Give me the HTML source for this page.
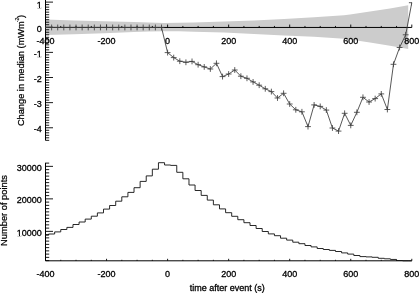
<!DOCTYPE html>
<html><head><meta charset="utf-8"><style>
html,body{margin:0;padding:0;background:#fff;width:419px;height:293px;overflow:hidden;}
svg{display:block;will-change:transform;font-family:"Liberation Sans", sans-serif;}
</style></head><body>
<svg width="419" height="293" viewBox="0 0 419 293" font-family='&quot;Liberation Sans&quot;, sans-serif' fill="#000" stroke-linejoin="round"><defs><clipPath id="ctop"><rect x="45.5" y="2.1" width="366.30" height="293"/></clipPath></defs><rect width="419" height="293" fill="#fff"/><polygon fill="#cccccc" points="45.90,19.60 74.00,20.40 104.00,21.35 134.00,22.10 149.00,22.60 164.00,23.10 179.00,22.80 194.00,22.50 224.00,21.60 254.00,20.50 284.00,19.05 314.00,17.20 344.00,15.30 350.00,14.40 370.00,11.50 390.00,8.60 408.20,5.20 408.20,48.90 390.00,45.80 370.00,42.60 350.00,39.50 344.00,38.80 314.00,36.65 284.00,35.40 254.00,34.00 224.00,32.60 194.00,31.70 179.00,31.30 164.00,31.20 149.00,31.60 134.00,32.00 104.00,33.20 74.00,34.25 45.90,34.90"/>
<line x1="45.50" y1="0.00" x2="45.50" y2="140.40" stroke="#000" stroke-width="1"/>
<line x1="45.50" y1="27.45" x2="411.80" y2="27.45" stroke="#000" stroke-width="1"/>
<path d="M45.50 140.33h3.70 M45.50 137.82h3.70 M45.50 135.31h3.70 M45.50 132.80h3.70 M45.50 130.28h3.70 M45.50 127.77h7.50 M45.50 125.26h3.70 M45.50 122.74h3.70 M45.50 120.23h3.70 M45.50 117.72h3.70 M45.50 115.20h3.70 M45.50 112.69h3.70 M45.50 110.18h3.70 M45.50 107.67h3.70 M45.50 105.15h3.70 M45.50 102.64h7.50 M45.50 100.13h3.70 M45.50 97.61h3.70 M45.50 95.10h3.70 M45.50 92.59h3.70 M45.50 90.07h3.70 M45.50 87.56h3.70 M45.50 85.05h3.70 M45.50 82.54h3.70 M45.50 80.02h3.70 M45.50 77.51h7.50 M45.50 75.00h3.70 M45.50 72.48h3.70 M45.50 69.97h3.70 M45.50 67.46h3.70 M45.50 64.94h3.70 M45.50 62.43h3.70 M45.50 59.92h3.70 M45.50 57.41h3.70 M45.50 54.89h3.70 M45.50 52.38h7.50 M45.50 49.87h3.70 M45.50 47.35h3.70 M45.50 44.84h3.70 M45.50 42.33h3.70 M45.50 39.81h3.70 M45.50 37.30h3.70 M45.50 34.79h3.70 M45.50 32.28h3.70 M45.50 29.76h3.70 M45.50 27.25h7.50 M45.50 24.74h3.70 M45.50 22.22h3.70 M45.50 19.71h3.70 M45.50 17.20h3.70 M45.50 14.69h3.70 M45.50 12.17h3.70 M45.50 9.66h3.70 M45.50 7.15h3.70 M45.50 4.63h3.70 M45.50 2.12h7.50" stroke="#000" stroke-width="0.9" fill="none"/>
<path d="M45.50 27.45v-2.90 M60.76 27.45v-1.50 M76.03 27.45v-1.50 M91.29 27.45v-1.50 M106.55 27.45v-2.90 M121.81 27.45v-1.50 M137.07 27.45v-1.50 M152.34 27.45v-1.50 M167.60 27.45v-2.90 M182.86 27.45v-1.50 M198.12 27.45v-1.50 M213.39 27.45v-1.50 M228.65 27.45v-2.90 M243.91 27.45v-1.50 M259.18 27.45v-1.50 M274.44 27.45v-1.50 M289.70 27.45v-2.90 M304.96 27.45v-1.50 M320.23 27.45v-1.50 M335.49 27.45v-1.50 M350.75 27.45v-2.90 M366.01 27.45v-1.50 M381.27 27.45v-1.50 M396.54 27.45v-1.50 M411.80 27.45v-2.90" stroke="#000" stroke-width="0.9" fill="none"/>
<polyline fill="none" stroke="#3a3a3a" stroke-width="0.85" points="45.50,27.45 51.61,27.45 57.71,27.45 63.81,27.45 69.92,27.45 76.03,27.45 82.13,27.45 88.23,27.45 94.34,27.45 100.44,27.45 106.55,27.45 112.66,27.45 118.76,27.45 124.86,27.45 130.97,27.45 137.07,27.45 143.18,27.45 149.28,27.45 155.39,27.45 161.50,27.45 167.60,52.60 173.71,57.60 179.81,61.20 185.91,62.30 192.02,61.40 198.12,64.70 204.23,66.90 210.34,69.00 216.44,63.30 222.54,76.60 228.65,74.00 234.75,70.00 240.86,76.20 246.97,78.30 253.07,81.90 259.18,85.20 265.28,88.80 271.38,91.60 277.49,98.00 283.60,93.30 289.70,104.00 295.81,109.80 301.91,111.80 308.01,126.60 314.12,104.90 320.23,106.40 326.33,110.10 332.44,128.00 338.54,131.10 344.64,113.30 350.75,125.40 356.86,112.30 362.96,97.30 369.06,102.00 375.17,98.60 381.27,93.90 387.38,109.50 393.49,64.30 399.59,47.50 405.69,34.80 411.80,2.70"/>
<g clip-path="url(#ctop)"><path d="M42.60 27.45h5.80M45.50 24.55v5.80 M48.71 27.45h5.80M51.61 24.55v5.80 M54.81 27.45h5.80M57.71 24.55v5.80 M60.91 27.45h5.80M63.81 24.55v5.80 M67.02 27.45h5.80M69.92 24.55v5.80 M73.12 27.45h5.80M76.03 24.55v5.80 M79.23 27.45h5.80M82.13 24.55v5.80 M85.33 27.45h5.80M88.23 24.55v5.80 M91.44 27.45h5.80M94.34 24.55v5.80 M97.54 27.45h5.80M100.44 24.55v5.80 M103.65 27.45h5.80M106.55 24.55v5.80 M109.75 27.45h5.80M112.66 24.55v5.80 M115.86 27.45h5.80M118.76 24.55v5.80 M121.96 27.45h5.80M124.86 24.55v5.80 M128.07 27.45h5.80M130.97 24.55v5.80 M134.17 27.45h5.80M137.07 24.55v5.80 M140.28 27.45h5.80M143.18 24.55v5.80 M146.38 27.45h5.80M149.28 24.55v5.80 M152.49 27.45h5.80M155.39 24.55v5.80 M158.59 27.45h5.80M161.50 24.55v5.80 M164.70 52.60h5.80M167.60 49.70v5.80 M170.81 57.60h5.80M173.71 54.70v5.80 M176.91 61.20h5.80M179.81 58.30v5.80 M183.01 62.30h5.80M185.91 59.40v5.80 M189.12 61.40h5.80M192.02 58.50v5.80 M195.22 64.70h5.80M198.12 61.80v5.80 M201.33 66.90h5.80M204.23 64.00v5.80 M207.44 69.00h5.80M210.34 66.10v5.80 M213.54 63.30h5.80M216.44 60.40v5.80 M219.64 76.60h5.80M222.54 73.70v5.80 M225.75 74.00h5.80M228.65 71.10v5.80 M231.85 70.00h5.80M234.75 67.10v5.80 M237.96 76.20h5.80M240.86 73.30v5.80 M244.06 78.30h5.80M246.97 75.40v5.80 M250.17 81.90h5.80M253.07 79.00v5.80 M256.28 85.20h5.80M259.18 82.30v5.80 M262.38 88.80h5.80M265.28 85.90v5.80 M268.49 91.60h5.80M271.38 88.70v5.80 M274.59 98.00h5.80M277.49 95.10v5.80 M280.70 93.30h5.80M283.60 90.40v5.80 M286.80 104.00h5.80M289.70 101.10v5.80 M292.91 109.80h5.80M295.81 106.90v5.80 M299.01 111.80h5.80M301.91 108.90v5.80 M305.12 126.60h5.80M308.01 123.70v5.80 M311.22 104.90h5.80M314.12 102.00v5.80 M317.33 106.40h5.80M320.23 103.50v5.80 M323.43 110.10h5.80M326.33 107.20v5.80 M329.54 128.00h5.80M332.44 125.10v5.80 M335.64 131.10h5.80M338.54 128.20v5.80 M341.75 113.30h5.80M344.64 110.40v5.80 M347.85 125.40h5.80M350.75 122.50v5.80 M353.96 112.30h5.80M356.86 109.40v5.80 M360.06 97.30h5.80M362.96 94.40v5.80 M366.17 102.00h5.80M369.06 99.10v5.80 M372.27 98.60h5.80M375.17 95.70v5.80 M378.38 93.90h5.80M381.27 91.00v5.80 M384.48 109.50h5.80M387.38 106.60v5.80 M390.59 64.30h5.80M393.49 61.40v5.80 M396.69 47.50h5.80M399.59 44.60v5.80 M402.80 34.80h5.80M405.69 31.90v5.80 M408.90 2.70h5.80M411.80 -0.20v5.80" stroke="#404040" stroke-width="0.85" fill="none"/></g>
<text x="41.80" y="7.72" text-anchor="end" font-size="9.00" stroke="#000" stroke-width="0.3" >1</text>
<text x="41.80" y="31.85" text-anchor="end" font-size="9.00" stroke="#000" stroke-width="0.3" >0</text>
<text x="41.80" y="56.98" text-anchor="end" font-size="9.00" stroke="#000" stroke-width="0.3" >-1</text>
<text x="41.80" y="82.11" text-anchor="end" font-size="9.00" stroke="#000" stroke-width="0.3" >-2</text>
<text x="41.80" y="107.24" text-anchor="end" font-size="9.00" stroke="#000" stroke-width="0.3" >-3</text>
<text x="41.80" y="132.37" text-anchor="end" font-size="9.00" stroke="#000" stroke-width="0.3" >-4</text>
<text x="45.50" y="43.50" text-anchor="middle" font-size="9.00" stroke="#000" stroke-width="0.3" >-400</text>
<text x="106.55" y="43.50" text-anchor="middle" font-size="9.00" stroke="#000" stroke-width="0.3" >-200</text>
<text x="167.60" y="43.50" text-anchor="middle" font-size="9.00" stroke="#000" stroke-width="0.3" >0</text>
<text x="228.65" y="43.50" text-anchor="middle" font-size="9.00" stroke="#000" stroke-width="0.3" >200</text>
<text x="289.70" y="43.50" text-anchor="middle" font-size="9.00" stroke="#000" stroke-width="0.3" >400</text>
<text x="350.75" y="43.50" text-anchor="middle" font-size="9.00" stroke="#000" stroke-width="0.3" >600</text>
<text x="411.80" y="43.50" text-anchor="middle" font-size="9.00" stroke="#000" stroke-width="0.3" >800</text>
<line x1="45.50" y1="162.80" x2="45.50" y2="260.80" stroke="#000" stroke-width="1"/>
<line x1="45.50" y1="260.80" x2="411.80" y2="260.80" stroke="#000" stroke-width="1"/>
<path d="M45.50 260.61h3.70 M45.50 257.36h3.70 M45.50 254.11h3.70 M45.50 250.86h3.70 M45.50 247.61h3.70 M45.50 244.36h3.70 M45.50 241.11h3.70 M45.50 237.86h3.70 M45.50 234.61h3.70 M45.50 231.36h7.50 M45.50 228.11h3.70 M45.50 224.86h3.70 M45.50 221.61h3.70 M45.50 218.36h3.70 M45.50 215.11h3.70 M45.50 211.86h3.70 M45.50 208.61h3.70 M45.50 205.36h3.70 M45.50 202.11h3.70 M45.50 198.86h7.50 M45.50 195.61h3.70 M45.50 192.36h3.70 M45.50 189.11h3.70 M45.50 185.86h3.70 M45.50 182.61h3.70 M45.50 179.36h3.70 M45.50 176.11h3.70 M45.50 172.86h3.70 M45.50 169.61h3.70 M45.50 166.36h7.50 M45.50 163.11h3.70" stroke="#000" stroke-width="0.9" fill="none"/>
<path d="M45.50 260.80v-2.00 M60.76 260.80v-1.00 M76.03 260.80v-1.00 M91.29 260.80v-1.00 M106.55 260.80v-2.00 M121.81 260.80v-1.00 M137.07 260.80v-1.00 M152.34 260.80v-1.00 M167.60 260.80v-2.00 M182.86 260.80v-1.00 M198.12 260.80v-1.00 M213.39 260.80v-1.00 M228.65 260.80v-2.00 M243.91 260.80v-1.00 M259.18 260.80v-1.00 M274.44 260.80v-1.00 M289.70 260.80v-2.00 M304.96 260.80v-1.00 M320.23 260.80v-1.00 M335.49 260.80v-1.00 M350.75 260.80v-2.00 M366.01 260.80v-1.00 M381.27 260.80v-1.00 M396.54 260.80v-1.00 M411.80 260.80v-2.00" stroke="#000" stroke-width="0.9" fill="none"/>
<polyline fill="none" stroke="#111" stroke-width="0.9" points="45.50,235.20 48.55,235.20 48.55,234.00 54.66,234.00 54.66,231.90 60.76,231.90 60.76,229.50 66.87,229.50 66.87,227.40 72.97,227.40 72.97,224.50 79.08,224.50 79.08,222.00 85.18,222.00 85.18,219.10 91.29,219.10 91.29,216.20 97.39,216.20 97.39,212.90 103.50,212.90 103.50,209.10 109.60,209.10 109.60,205.50 115.71,205.50 115.71,201.20 121.81,201.20 121.81,196.80 127.92,196.80 127.92,192.40 134.02,192.40 134.02,187.70 140.13,187.70 140.13,181.40 146.23,181.40 146.23,175.90 152.34,175.90 152.34,169.20 158.44,169.20 158.44,162.70 164.55,162.70 164.55,165.00 170.65,165.00 170.65,165.40 176.76,165.40 176.76,172.30 182.86,172.30 182.86,178.80 188.97,178.80 188.97,185.00 195.07,185.00 195.07,190.50 201.18,190.50 201.18,195.40 207.28,195.40 207.28,200.10 213.39,200.10 213.39,204.80 219.49,204.80 219.49,208.90 225.60,208.90 225.60,212.70 231.70,212.70 231.70,216.30 237.81,216.30 237.81,219.70 243.91,219.70 243.91,222.70 250.02,222.70 250.02,225.50 256.12,225.50 256.12,228.50 262.23,228.50 262.23,231.50 268.33,231.50 268.33,233.90 274.44,233.90 274.44,235.70 280.54,235.70 280.54,238.20 286.65,238.20 286.65,240.10 292.75,240.10 292.75,242.20 298.86,242.20 298.86,243.70 304.96,243.70 304.96,245.50 311.07,245.50 311.07,246.90 317.17,246.90 317.17,248.50 323.28,248.50 323.28,249.50 329.38,249.50 329.38,250.40 335.49,250.40 335.49,251.50 341.59,251.50 341.59,252.90 347.70,252.90 347.70,254.10 353.80,254.10 353.80,255.50 359.91,255.50 359.91,256.60 366.01,256.60 366.01,256.90 372.12,256.90 372.12,257.30 378.22,257.30 378.22,258.30 384.33,258.30 384.33,258.80 390.43,258.80 390.43,259.45 396.54,259.45 396.54,260.50 402.64,260.50 402.64,260.80 408.75,260.80 408.75,260.80 411.80,260.80"/>
<text x="41.80" y="170.86" text-anchor="end" font-size="9.00" stroke="#000" stroke-width="0.3" >30000</text>
<text x="41.80" y="203.36" text-anchor="end" font-size="9.00" stroke="#000" stroke-width="0.3" >20000</text>
<text x="41.80" y="235.86" text-anchor="end" font-size="9.00" stroke="#000" stroke-width="0.3" >10000</text>
<text x="45.50" y="277.00" text-anchor="middle" font-size="9.00" stroke="#000" stroke-width="0.3" >-400</text>
<text x="106.55" y="277.00" text-anchor="middle" font-size="9.00" stroke="#000" stroke-width="0.3" >-200</text>
<text x="167.60" y="277.00" text-anchor="middle" font-size="9.00" stroke="#000" stroke-width="0.3" >0</text>
<text x="228.65" y="277.00" text-anchor="middle" font-size="9.00" stroke="#000" stroke-width="0.3" >200</text>
<text x="289.70" y="277.00" text-anchor="middle" font-size="9.00" stroke="#000" stroke-width="0.3" >400</text>
<text x="350.75" y="277.00" text-anchor="middle" font-size="9.00" stroke="#000" stroke-width="0.3" >600</text>
<text x="411.80" y="277.00" text-anchor="middle" font-size="9.00" stroke="#000" stroke-width="0.3" >800</text>
<rect x="37.07" y="6.87" width="1.94" height="1.16" fill="#fff"/>
<rect x="40.01" y="6.87" width="1.80" height="1.16" fill="#fff"/>
<rect x="37.07" y="56.12" width="1.94" height="1.16" fill="#fff"/>
<rect x="40.01" y="56.12" width="1.80" height="1.16" fill="#fff"/>
<rect x="17.05" y="235.01" width="1.94" height="1.16" fill="#fff"/>
<rect x="19.99" y="235.01" width="1.80" height="1.16" fill="#fff"/>
<text x="227.20" y="290.90" text-anchor="middle" font-size="9.00" stroke="#000" stroke-width="0.3" >time after event (s)</text>
<text transform="translate(24.1,126.1) rotate(-90)" text-anchor="start" font-size="9.25" stroke="#000" stroke-width="0.25">Change in median (mWm<tspan dy="-5.2" dx="-1.0" font-size="5.2" stroke-width="0.15">-2</tspan><tspan dy="5.2" dx="-0.3">)</tspan></text>
<text transform="translate(6.7,210.5) rotate(-90)" text-anchor="middle" font-size="9.30" stroke="#000" stroke-width="0.25">Number of points</text></svg>
</body></html>
